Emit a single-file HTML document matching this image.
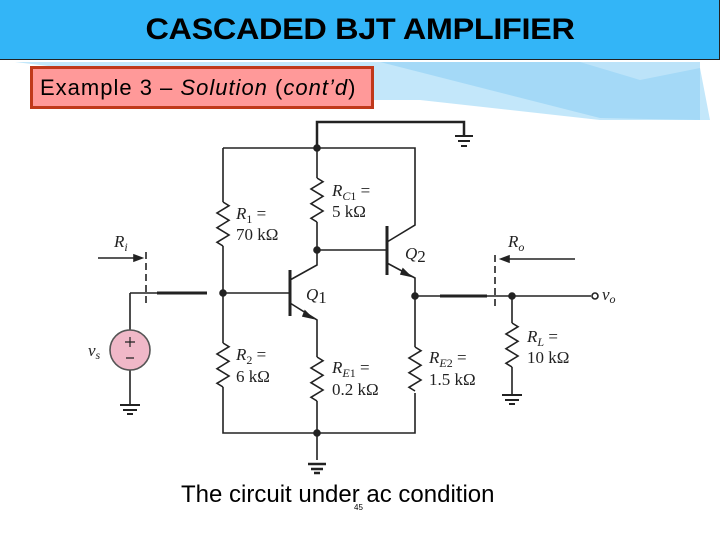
<!DOCTYPE html>
<html><head><meta charset="utf-8"><style>
body{margin:0;width:720px;height:540px;background:#fff;overflow:hidden;position:relative;font-family:"Liberation Sans",sans-serif}
.hdr{position:absolute;left:0;top:0;width:719px;height:59px;background:#33b5f7;border-bottom:1px solid #222;border-right:1px solid #222}
.hdr div{position:absolute;left:0;width:720px;top:13px;text-align:center;font-size:30px;font-weight:bold;color:#000;letter-spacing:-0.3px;transform:scaleX(1.08)}
.ex{position:absolute;left:30px;top:66px;width:331px;height:37px;background:#f99;border:3px solid #c0391b;font-size:22px;line-height:37px;padding-left:7px;box-sizing:content-box;letter-spacing:1px;white-space:nowrap}
.cap{position:absolute;left:181px;top:481px;font-size:24px}
.pg{position:absolute;left:354px;top:503px;font-size:8px}
</style></head><body>
<svg width="720" height="540" style="position:absolute;left:0;top:0">
<path d="M15 62 L580 62 L640 80 L700 68 L710 120 L600 120 L420 100 L330 100 Z" fill="#a9ddf8" opacity="0.7"/>
<path d="M380 62 L700 62 L700 120 L600 118 Z" fill="#8fd0f5" opacity="0.6"/>
</svg>
<div class="hdr"><div>CASCADED BJT AMPLIFIER</div></div>
<div class="ex">Example 3 – <i>Solution</i> (<i>cont’d</i>)</div>
<svg width="720" height="540" style="position:absolute;left:0;top:0" stroke="#222" stroke-width="1.6" fill="none" font-family="Liberation Serif,serif">
<defs><path id="z" d="M0 0 L6 3.7 L-6 11 L6 18.3 L-6 25.7 L6 33 L-6 40.3 L0 44"/></defs>
<path d="M317 148 V122 H464 V135" stroke-width="2.5"/>
<path d="M455 136 H473 M458 141 H470 M461 146 H467" stroke-width="2"/>
<path d="M223 148 H415 V225 L387 242"/>
<path d="M223 148 V202 M223 246 V343 M223 387 V433 H415 V393 M415 347 V278 L387 263"/>
<use href="#z" x="223" y="202"/><use href="#z" x="223" y="343"/>
<path d="M317 148 V178 M317 222 V265 L290 280 M317 250 H387 M223 293 H290"/>
<use href="#z" x="317" y="178"/>
<path d="M290 270 V316 M387 226 V275" stroke-width="3"/>
<path d="M290 303 L317 320 V357 M317 401 V460"/>
<use href="#z" x="317" y="357"/><use href="#z" x="415" y="347"/>
<path d="M308 464 H326 M311 469 H323 M314 473 H320" stroke-width="2.5"/>
<path d="M415 296 H591"/>
<path d="M440 296 H487 M157 293 H207" stroke-width="3"/>
<path d="M512 296 V323 M512 367 V395"/><use href="#z" x="512" y="323"/>
<path d="M502 395 H522 M505 400 H519 M509 404 H515" stroke-width="2"/>
<path d="M130 293 H157 M130 293 V330 M130 370 V405"/>
<path d="M120 405 H140 M123 410 H137 M127 414 H133" stroke-width="2"/>
<circle cx="130" cy="350" r="20" fill="#f0b8c8" stroke="#555"/>
<path d="M125 342 H135 M130 337 V347 M126 358 H134" stroke-width="1.2"/>
<path d="M146 252 V306 M495 255 V309" stroke-dasharray="7,4"/>
<path d="M98 258 H140 M575 259 H503"/>
<path d="M142 258 L134 255 L134 261 Z M501 259 L509 256 L509 262 Z" fill="#222"/>
<path d="M312 318 L305 311 L303 316 Z M410 276 L403 269 L401 274 Z" fill="#222"/>
<circle cx="317" cy="148" r="3" fill="#222"/><circle cx="223" cy="293" r="3" fill="#222"/>
<circle cx="317" cy="250" r="3" fill="#222"/><circle cx="415" cy="296" r="3" fill="#222"/>
<circle cx="512" cy="296" r="3" fill="#222"/><circle cx="317" cy="433" r="3" fill="#222"/>
<circle cx="595" cy="296" r="3" fill="#fff"/>
<g fill="#222" stroke="none" font-size="17">
<text x="332" y="196"><tspan font-style="italic">R</tspan><tspan font-size="12" font-style="italic" dy="4">C</tspan><tspan font-size="12">1</tspan><tspan dy="-4"> =</tspan></text>
<text x="332" y="217">5 kΩ</text>
<text x="236" y="219"><tspan font-style="italic">R</tspan><tspan font-size="12" dy="4">1</tspan><tspan dy="-4"> =</tspan></text>
<text x="236" y="240">70 kΩ</text>
<text x="236" y="360"><tspan font-style="italic">R</tspan><tspan font-size="12" dy="4">2</tspan><tspan dy="-4"> =</tspan></text>
<text x="236" y="382">6 kΩ</text>
<text x="332" y="373"><tspan font-style="italic">R</tspan><tspan font-size="12" font-style="italic" dy="4">E</tspan><tspan font-size="12">1</tspan><tspan dy="-4"> =</tspan></text>
<text x="332" y="395">0.2 kΩ</text>
<text x="429" y="363"><tspan font-style="italic">R</tspan><tspan font-size="12" font-style="italic" dy="4">E</tspan><tspan font-size="12">2</tspan><tspan dy="-4"> =</tspan></text>
<text x="429" y="385">1.5 kΩ</text>
<text x="527" y="342"><tspan font-style="italic">R</tspan><tspan font-size="12" font-style="italic" dy="4">L</tspan><tspan dy="-4"> =</tspan></text>
<text x="527" y="363">10 kΩ</text>
<text x="306" y="300" font-style="italic">Q<tspan font-style="normal" dy="3">1</tspan></text>
<text x="405" y="259" font-style="italic">Q<tspan font-style="normal" dy="3">2</tspan></text>
<text x="114" y="247" font-style="italic">R<tspan font-size="12" dy="4">i</tspan></text>
<text x="508" y="247" font-style="italic">R<tspan font-size="12" dy="4">o</tspan></text>
<text x="88" y="356" font-style="italic">v<tspan font-size="12" dy="3">s</tspan></text>
<text x="602" y="300" font-style="italic">v<tspan font-size="12" dy="3">o</tspan></text>
</g>
</svg>
<div class="cap">The circuit under ac condition</div>
<div class="pg">45</div>
</body></html>
